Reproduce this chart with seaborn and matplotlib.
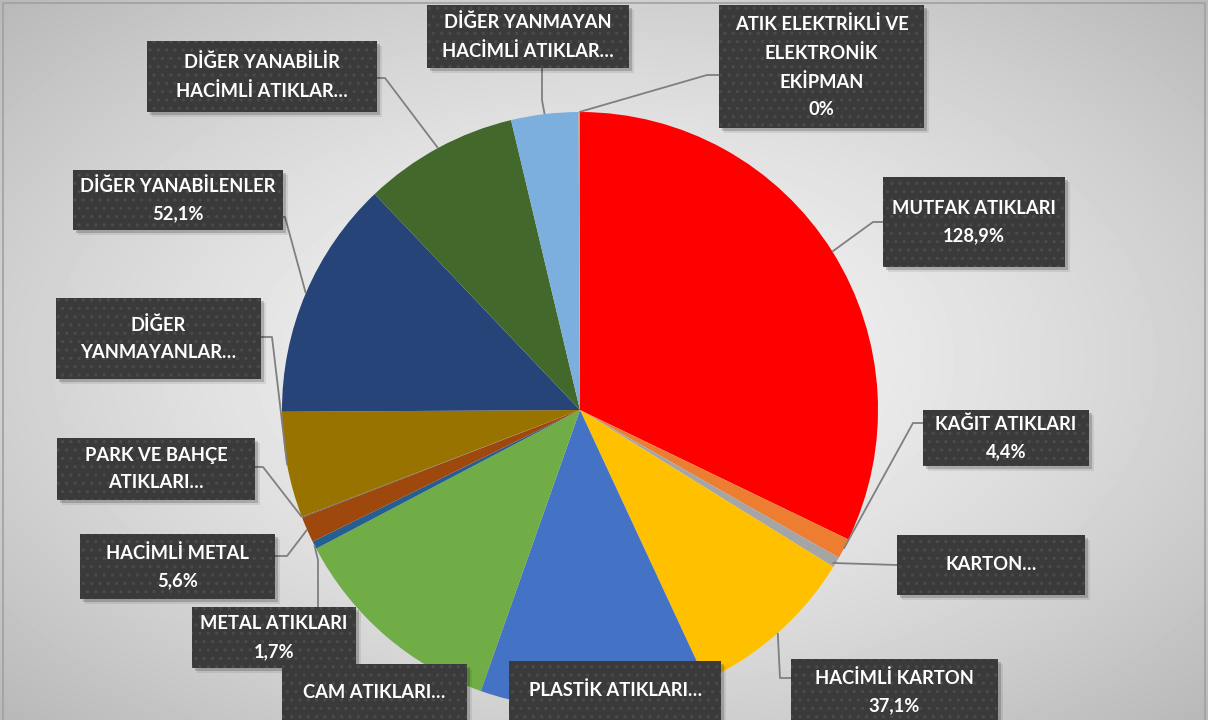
import numpy as np
import seaborn as sns
import matplotlib.pyplot as plt
from matplotlib.patches import Rectangle

# Waste categories (clockwise from 12 o'clock) and their values
categories = ["MUTFAK ATIKLARI", "KAĞIT ATIKLARI", "KARTON", "HACİMLİ KARTON",
              "PLASTİK ATIKLARI", "CAM ATIKLARI", "METAL ATIKLARI", "HACİMLİ METAL",
              "PARK VE BAHÇE ATIKLARI", "DİĞER YANMAYANLAR", "DİĞER YANABİLENLER",
              "DİĞER YANABİLİR HACİMLİ ATIKLAR", "DİĞER YANMAYAN HACİMLİ ATIKLAR",
              "ATIK ELEKTRİKLİ VE ELEKTRONİK EKİPMAN"]
values = [128.9, 4.4, 2.3, 37.1, 49.4, 47.7, 1.7, 5.6, 0.2, 23.0, 52.1, 33.6, 14.6, 0.3]
colors = ["#FF0000", "#ED7D31", "#A5A5A5", "#FFC000", "#4472C4", "#70AD47", "#255E91",
          "#9E480E", "#636363", "#997300", "#264478", "#43682B", "#7CAFDD", "#F1975A"]

# Text shown in the label boxes (as in the chart, some names are cut off)
box_names = ["MUTFAK ATIKLARI", "KAĞIT ATIKLARI", "KARTON…", "HACİMLİ KARTON",
             "PLASTİK ATIKLARI…", "CAM ATIKLARI…", "METAL ATIKLARI", "HACİMLİ METAL",
             "PARK VE BAHÇE\nATIKLARI…", "DİĞER\nYANMAYANLAR…", "DİĞER YANABİLENLER",
             "DİĞER YANABİLİR\nHACİMLİ ATIKLAR…", "DİĞER YANMAYAN\nHACİMLİ ATIKLAR…",
             "ATIK ELEKTRİKLİ VE\nELEKTRONİK\nEKİPMAN"]
pct_labels = ["128,9%", "4,4%", None, "37,1%", None, None, "1,7%", "5,6%",
              None, None, "52,1%", None, None, "0%"]

# Label box layout in pixels: (x0, y0, x1, y1), elbow point, hook point on box
boxes = [(883, 177, 1065, 267), (923, 410, 1089, 466), (897, 535, 1085, 595),
         (791, 659, 998, 725), (509, 661, 721, 720), (282, 664, 467, 720),
         (192, 607, 356, 668), (80, 534, 275, 599), (57, 438, 255, 500),
         (56, 298, 261, 379), (73, 170, 283, 230), (147, 41, 377, 112),
         (427, 5, 629, 68), (719, 5, 924, 128)]
elbows = [(873, 222), (913, 423), (833, 563), (780, 678), None, None,
          (318, 560), (287, 556), (263, 467), (272, 337), (285, 217),
          (385, 78), (542, 100), (707, 75)]
hooks = [(883, 222), (923, 423), (897, 565), (791, 678), None, None,
         (318, 607), (275, 556), (255, 467), (261, 337), (283, 217),
         (377, 78), (542, 68), (719, 75)]

W, H = 1208, 720
CX, CY, R = 580, 410, 298


def to_data(px, py):
    return (px - CX) / R, (CY - py) / R


sns.set_style("white")
plt.rcParams['font.family'] = ['Lato', 'DejaVu Sans']
plt.rcParams['hatch.linewidth'] = 1.2

fig = plt.figure(figsize=(W / 100, H / 100), dpi=100)
ax = fig.add_axes([0, 0, 1, 1])

# Light radial gradient background
xs = np.linspace(0, 1, 300)
ys = np.linspace(0, 1, 180)
gx, gy = np.meshgrid(xs, ys)
r = np.sqrt(((gx - 0.5) / 0.5) ** 2 + ((gy - 0.5) / 0.5) ** 2) / np.sqrt(2)
shade = (246 - 62 * r ** 1.4) / 255
x_lo, y_hi = to_data(0, 0)
x_hi, y_lo = to_data(W, H)
ax.imshow(shade, cmap="gray", vmin=0, vmax=1, extent=[x_lo, x_hi, y_lo, y_hi],
          aspect="auto", zorder=0, interpolation="bicubic")

wedges, _ = ax.pie(values, colors=colors, startangle=90, counterclock=False,
                   radius=1, wedgeprops=dict(linewidth=0))
for w in wedges:
    w.set_zorder(2)

ax.set_xlim(x_lo, x_hi)
ax.set_ylim(y_lo, y_hi)
ax.set_aspect("auto")
ax.axis("off")

# Outer chart border (bottom edge is cropped off in the original)
bx0, by0 = to_data(3, 740)
bx1, by1 = to_data(1205, 3)
ax.add_patch(Rectangle((bx0, by0), bx1 - bx0, by1 - by0, fill=False,
                       edgecolor="#A0A0A0", linewidth=1.2, zorder=1))

for i, w in enumerate(wedges):
    x0, y0, x1, y1 = boxes[i]
    # leader line from the middle of the wedge's arc
    if hooks[i] is not None:
        ang = np.deg2rad((w.theta1 + w.theta2) / 2)
        ex, ey = to_data(*elbows[i])
        hx, hy = to_data(*hooks[i])
        ax.plot([np.cos(ang), ex, hx], [np.sin(ang), ey, hy], color="#7F7F7F",
                linewidth=1.3, zorder=3, solid_capstyle="butt")
    # shadow
    for off, a in [(5, 0.08), (3, 0.18)]:
        sx0, sy0 = to_data(x0 + off, y1 + off)
        sx1, sy1 = to_data(x1 + off, y0 + off)
        ax.add_patch(Rectangle((sx0, sy0), sx1 - sx0, sy1 - sy0, facecolor="black",
                               edgecolor="none", alpha=a, zorder=4))
    dx0, dy0 = to_data(x0, y1)
    dx1, dy1 = to_data(x1, y0)
    ax.add_patch(Rectangle((dx0, dy0), dx1 - dx0, dy1 - dy0, facecolor="#3A3A3A",
                           edgecolor="#4A4A4A", hatch="..", linewidth=0, zorder=5))
    txt = box_names[i] if pct_labels[i] is None else box_names[i] + "\n" + pct_labels[i]
    tx, ty = to_data((x0 + x1) / 2, (y0 + y1) / 2)
    ax.text(tx, ty, txt, ha="center", va="center", color="white", fontsize=13.2,
            fontweight="bold", linespacing=1.75, zorder=6)

plt.savefig("out.png", dpi=100)
